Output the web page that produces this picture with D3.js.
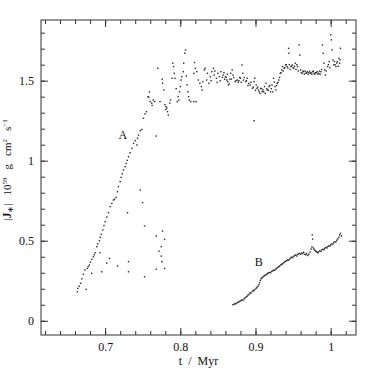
<!DOCTYPE html>
<html>
<head>
<meta charset="utf-8">
<script src="https://cdn.jsdelivr.net/npm/d3@7"></script>
<style>
  body { margin: 0; background: #fff; }
  text { font-family: "Liberation Serif", serif; fill: #111; }
</style>
</head>
<body>
<svg width="374" height="374"></svg>
<script>
// A: the steep rise (t in Myr, |J| in 1e59 g cm^2 s^-1)
var riseA = [
  [0.6631,0.181],[0.6636,0.202],[0.6655,0.215],[0.6676,0.234],[0.669,0.262],[0.6711,0.291],
  [0.6733,0.317],[0.6764,0.327],[0.6775,0.338],[0.679,0.348],[0.6805,0.366],[0.6822,0.383],
  [0.6844,0.400],[0.6855,0.412],[0.6867,0.425],[0.6889,0.463],[0.6902,0.480],[0.6924,0.500],
  [0.6935,0.522],[0.6948,0.540],[0.6969,0.567],[0.6985,0.595],[0.7000,0.619],[0.7022,0.648],
  [0.7044,0.675],[0.7067,0.713],[0.7089,0.733],[0.7111,0.754],[0.7125,0.760],[0.7147,0.771],
  [0.7164,0.806],[0.7178,0.838],[0.7200,0.869],[0.7213,0.896],[0.7228,0.918],[0.7244,0.942],
  [0.7267,0.963],[0.7280,0.983],[0.7295,1.002],[0.7311,1.025],[0.7333,1.050],[0.7356,1.077],
  [0.7378,1.108],[0.7400,1.125],[0.7422,1.098],[0.7431,1.140],[0.7444,1.160],[0.7467,1.188],
  [0.7490,1.195]
];

// A: scattered points below the rise
var strayA = [
  [0.6747,0.196],[0.6822,0.296],[0.6933,0.425],[0.6956,0.306],[0.7058,0.390],[0.7022,0.360],
  [0.7164,0.342],[0.7311,0.369],[0.7311,0.306],[0.7298,0.675],[0.7467,0.817],[0.7498,0.738],
  [0.7524,0.592],[0.7524,0.275],[0.7680,0.529],[0.7791,0.508],[0.7747,0.463],[0.7716,0.435],
  [0.7747,0.404],[0.7756,0.369],[0.7791,0.327],[0.7680,0.321],[0.7764,0.561],[0.7680,1.154],
  [0.8980,1.250]
];

// A: the plateau
var plateauA = [
  [0.751,1.265],[0.753,1.292],[0.755,1.306],[0.757,1.400],[0.758,1.396],[0.759,1.430],
  [0.760,1.369],[0.762,1.359],[0.7625,1.345],[0.764,1.379],[0.766,1.370],[0.770,1.577],
  [0.773,1.369],[0.776,1.509],[0.7765,1.484],[0.778,1.442],[0.7795,1.350],[0.7805,1.320],
  [0.781,1.338],[0.782,1.330],[0.783,1.306],[0.784,1.285],[0.786,1.360],[0.787,1.379],
  [0.789,1.515],[0.790,1.609],[0.791,1.588],[0.792,1.546],[0.793,1.515],[0.7945,1.450],
  [0.796,1.369],[0.797,1.400],[0.798,1.379],[0.799,1.431],[0.800,1.463],[0.801,1.504],
  [0.802,1.525],[0.804,1.556],[0.8045,1.609],[0.806,1.671],[0.807,1.692],[0.808,1.530],
  [0.809,1.473],[0.810,1.431],[0.811,1.400],[0.812,1.379],[0.814,1.369],[0.818,1.369],
  [0.821,1.369],[0.819,1.613],[0.820,1.577],[0.818,1.546],[0.822,1.556],[0.824,1.504],
  [0.826,1.484],[0.828,1.463],[0.829,1.442],[0.830,1.494],[0.832,1.567],[0.833,1.577],
  [0.835,1.504],[0.836,1.546],[0.838,1.484],[0.840,1.525],[0.841,1.500],[0.842,1.556],
  [0.844,1.577],[0.845,1.535],[0.846,1.560],[0.848,1.515],[0.849,1.490],[0.850,1.546],
  [0.852,1.525],[0.853,1.500],[0.854,1.556],[0.856,1.520],[0.857,1.535],[0.858,1.550],
  [0.859,1.509],[0.860,1.525],[0.861,1.520],[0.862,1.504],[0.8625,1.540],[0.863,1.494],
  [0.864,1.473],[0.865,1.480],[0.866,1.509],[0.867,1.546],[0.868,1.510],[0.869,1.567],
  [0.870,1.535],[0.871,1.520],[0.873,1.494],[0.874,1.500],[0.876,1.504],[0.877,1.490],
  [0.878,1.500],[0.879,1.520],[0.880,1.515],[0.881,1.490],[0.882,1.598],[0.883,1.546],
  [0.884,1.504],[0.885,1.520],[0.887,1.494],[0.888,1.500],[0.889,1.515],[0.890,1.470],
  [0.891,1.483],[0.893,1.473],[0.894,1.490],[0.896,1.452],[0.897,1.460],[0.898,1.494],
  [0.899,1.515],[0.900,1.440],[0.901,1.473],[0.902,1.452],[0.903,1.460],[0.904,1.442],
  [0.905,1.430],[0.906,1.420],[0.907,1.452],[0.908,1.450],[0.909,1.431],[0.910,1.442],
  [0.911,1.430],[0.912,1.463],[0.913,1.420],[0.914,1.483],[0.915,1.450],[0.916,1.442],
  [0.917,1.440],[0.918,1.463],[0.919,1.470],[0.920,1.431],[0.921,1.450],[0.922,1.473],
  [0.923,1.430],[0.924,1.515],[0.925,1.490],[0.926,1.463],[0.927,1.442],[0.928,1.470],
  [0.929,1.483],[0.930,1.490],[0.931,1.504],[0.932,1.520],[0.933,1.546],[0.934,1.550],
  [0.935,1.567],[0.936,1.588],[0.937,1.560],[0.938,1.577],[0.939,1.580],[0.940,1.598],
  [0.941,1.600],[0.942,1.588],[0.943,1.580],[0.944,1.702],[0.9445,1.671],[0.945,1.600],
  [0.946,1.570],[0.947,1.588],[0.948,1.590],[0.949,1.598],[0.950,1.580],[0.951,1.577],
  [0.952,1.590],[0.953,1.609],[0.954,1.570],[0.955,1.600],[0.956,1.588],[0.957,1.560],
  [0.958,1.723],[0.959,1.660],[0.960,1.567],[0.961,1.550],[0.962,1.546],[0.963,1.560],
  [0.964,1.556],[0.965,1.540],[0.966,1.560],[0.967,1.546],[0.968,1.550],[0.969,1.556],
  [0.970,1.540],[0.971,1.550],[0.972,1.560],[0.973,1.546],[0.974,1.550],[0.975,1.540],
  [0.976,1.556],[0.977,1.560],[0.978,1.546],[0.979,1.540],[0.980,1.550],[0.981,1.550],
  [0.982,1.556],[0.983,1.540],[0.984,1.546],[0.985,1.560],[0.986,1.540],[0.987,1.556],
  [0.988,1.570],[0.989,1.723],[0.990,1.671],[0.991,1.609],[0.992,1.567],[0.993,1.535],
  [0.994,1.560],[0.996,1.588],[0.997,1.600],[0.998,1.619],[0.999,1.580],[1.000,1.786],
  [1.001,1.755],[1.002,1.692],[1.003,1.629],[1.004,1.598],[1.005,1.620],[1.006,1.600],
  [1.007,1.588],[1.008,1.610],[1.009,1.619],[1.010,1.590],[1.011,1.640],[1.012,1.609],
  [1.0125,1.630],[1.013,1.702]
];

// B
var curveB = [
  [0.870,0.100],[0.8715,0.103],[0.873,0.108],[0.874,0.106],[0.8755,0.112],[0.877,0.115],
  [0.878,0.119],[0.8795,0.122],[0.881,0.127],[0.882,0.131],[0.8835,0.128],[0.885,0.137],
  [0.886,0.142],[0.8875,0.148],[0.889,0.153],[0.890,0.160],[0.8915,0.165],[0.893,0.175],
  [0.894,0.172],[0.8955,0.183],[0.897,0.190],[0.898,0.187],[0.8995,0.196],[0.901,0.203],
  [0.902,0.210],[0.9035,0.215],[0.9045,0.226],[0.9055,0.238],[0.9065,0.252],[0.9075,0.262],
  [0.9085,0.268],[0.9095,0.272],[0.911,0.278],[0.912,0.283],[0.9135,0.286],[0.915,0.290],
  [0.916,0.296],[0.9175,0.299],[0.919,0.302],[0.920,0.300],[0.9215,0.308],[0.923,0.312],
  [0.924,0.316],[0.9255,0.315],[0.927,0.322],[0.928,0.328],[0.9295,0.333],[0.931,0.338],
  [0.932,0.342],[0.9335,0.348],[0.935,0.352],[0.936,0.357],[0.9375,0.362],[0.939,0.368],
  [0.940,0.372],[0.9415,0.376],[0.943,0.380],[0.944,0.378],[0.9455,0.386],[0.947,0.392],
  [0.948,0.398],[0.9495,0.395],[0.951,0.402],[0.952,0.408],[0.9535,0.411],[0.955,0.405],
  [0.956,0.414],[0.9575,0.418],[0.959,0.421],[0.960,0.416],[0.9615,0.424],[0.963,0.419],
  [0.964,0.428],[0.9655,0.415],[0.967,0.412],[0.968,0.420],[0.9695,0.408],[0.971,0.416],
  [0.9725,0.430],[0.974,0.448],[0.975,0.462],[0.9755,0.536],[0.976,0.510],[0.977,0.455],
  [0.978,0.447],[0.979,0.440],[0.980,0.436],[0.981,0.432],[0.982,0.428],[0.983,0.425],
  [0.984,0.430],[0.9855,0.437],[0.987,0.433],[0.988,0.442],[0.9895,0.447],[0.991,0.444],
  [0.992,0.452],[0.9935,0.458],[0.995,0.455],[0.996,0.463],[0.9975,0.468],[0.999,0.466],
  [1.000,0.474],[1.0015,0.480],[1.003,0.478],[1.004,0.488],[1.0055,0.494],[1.007,0.492],
  [1.008,0.503],[1.0095,0.512],[1.011,0.522],[1.012,0.536],[1.013,0.546],[1.0145,0.530]
];

var xMajor = [0.7, 0.8, 0.9, 1];
var xLabels = ["0.7", "0.8", "0.9", "1"];
var yMajor = [0, 0.5, 1, 1.5];
var yLabels = ["0", "0.5", "1", "1.5"];
var xMinor = d3.range(31, 52).map(function (i) { return i / 50; });   // every 0.02
var yMinor = d3.range(0, 19).map(function (i) { return i / 10; });    // every 0.1
var seriesNames = [{ name: "A", t: 0.7236, j: 1.16 }, { name: "B", t: 0.9044, j: 0.37 }];

var svg = d3.select("svg"),
  plotL = 41, plotR = 356, plotT = 20, plotB = 335;

var x = d3.scaleLinear().domain([0.6147, 1.0337]).range([plotL, plotR]);
var y = d3.scaleLinear().domain([-0.089, 1.879]).range([plotB, plotT]);

// frame
svg.append("rect")
  .attr("x", plotL).attr("y", plotT)
  .attr("width", plotR - plotL).attr("height", plotB - plotT)
  .attr("fill", "none").attr("stroke", "#333").attr("stroke-width", 1);

// ticks on all four sides, pointing in
function drawAxis(axis, tx, ty) {
  var g = svg.append("g")
    .attr("transform", "translate(" + tx + "," + ty + ")")
    .call(axis);
  g.select(".domain").remove();
  g.selectAll("line").attr("stroke", "#333");
  g.selectAll("text")
    .attr("font-family", "Liberation Serif")
    .attr("font-size", 12)
    .attr("fill", "#111");
  return g;
}

drawAxis(d3.axisBottom(x).tickValues(xMinor).tickSize(-4).tickFormat(""), 0, plotB);
drawAxis(d3.axisTop(x).tickValues(xMinor).tickSize(-4).tickFormat(""), 0, plotT);
drawAxis(d3.axisBottom(x).tickValues(xMajor).tickSize(-7).tickPadding(7)
  .tickFormat(function (d, i) { return xLabels[i]; }), 0, plotB);
drawAxis(d3.axisTop(x).tickValues(xMajor).tickSize(-7).tickFormat(""), 0, plotT);

drawAxis(d3.axisLeft(y).tickValues(yMinor).tickSize(-4).tickFormat(""), plotL, 0);
drawAxis(d3.axisRight(y).tickValues(yMinor).tickSize(-4).tickFormat(""), plotR, 0);
drawAxis(d3.axisLeft(y).tickValues(yMajor).tickSize(-7).tickPadding(7)
  .tickFormat(function (d, i) { return yLabels[i]; }), plotL, 0);
drawAxis(d3.axisRight(y).tickValues(yMajor).tickSize(-7).tickFormat(""), plotR, 0);

// axis titles
svg.append("text")
  .attr("x", (plotL + plotR) / 2).attr("y", 365)
  .attr("text-anchor", "middle")
  .attr("font-size", 12)
  .style("white-space", "pre")
  .text("t  /  Myr");

var yt = svg.append("text")
  .attr("transform", "translate(11,170) rotate(-90)")
  .attr("text-anchor", "middle")
  .attr("font-size", 11);
yt.append("tspan").text("|");
yt.append("tspan").attr("font-weight", "bold").attr("font-size", 12).text("J");
yt.append("tspan").attr("font-size", 8).attr("dy", 2).text("∗");
yt.append("tspan").attr("dy", -2).text("|");
yt.append("tspan").attr("dx", 8).text("10");
yt.append("tspan").attr("font-size", 7).attr("dy", -4.5).text("59");
yt.append("tspan").attr("dx", 8).attr("dy", 4.5).text("g");
yt.append("tspan").attr("dx", 8).text("cm");
yt.append("tspan").attr("font-size", 7).attr("dy", -4.5).text("2");
yt.append("tspan").attr("dx", 8).attr("dy", 4.5).text("s");
yt.append("tspan").attr("font-size", 7).attr("dy", -4.5).text("−1");

// points
var allA = riseA.concat(strayA, plateauA);
function dots(data) {
  svg.append("g").selectAll("rect")
    .data(data)
    .enter().append("rect")
    .attr("x", function (d) { return x(d[0]) - 0.7; })
    .attr("y", function (d) { return y(d[1]) - 0.7; })
    .attr("width", 1.4).attr("height", 1.4)
    .attr("fill", "#2a2a2a");
}
dots(allA);
dots(curveB);

// series labels
svg.append("g").selectAll("text")
  .data(seriesNames)
  .enter().append("text")
  .attr("x", function (d) { return x(d.t); })
  .attr("y", function (d) { return y(d.j); })
  .attr("dy", "0.35em")
  .attr("text-anchor", "middle")
  .attr("font-size", 12)
  .text(function (d) { return d.name; });
</script>
</body>
</html>
